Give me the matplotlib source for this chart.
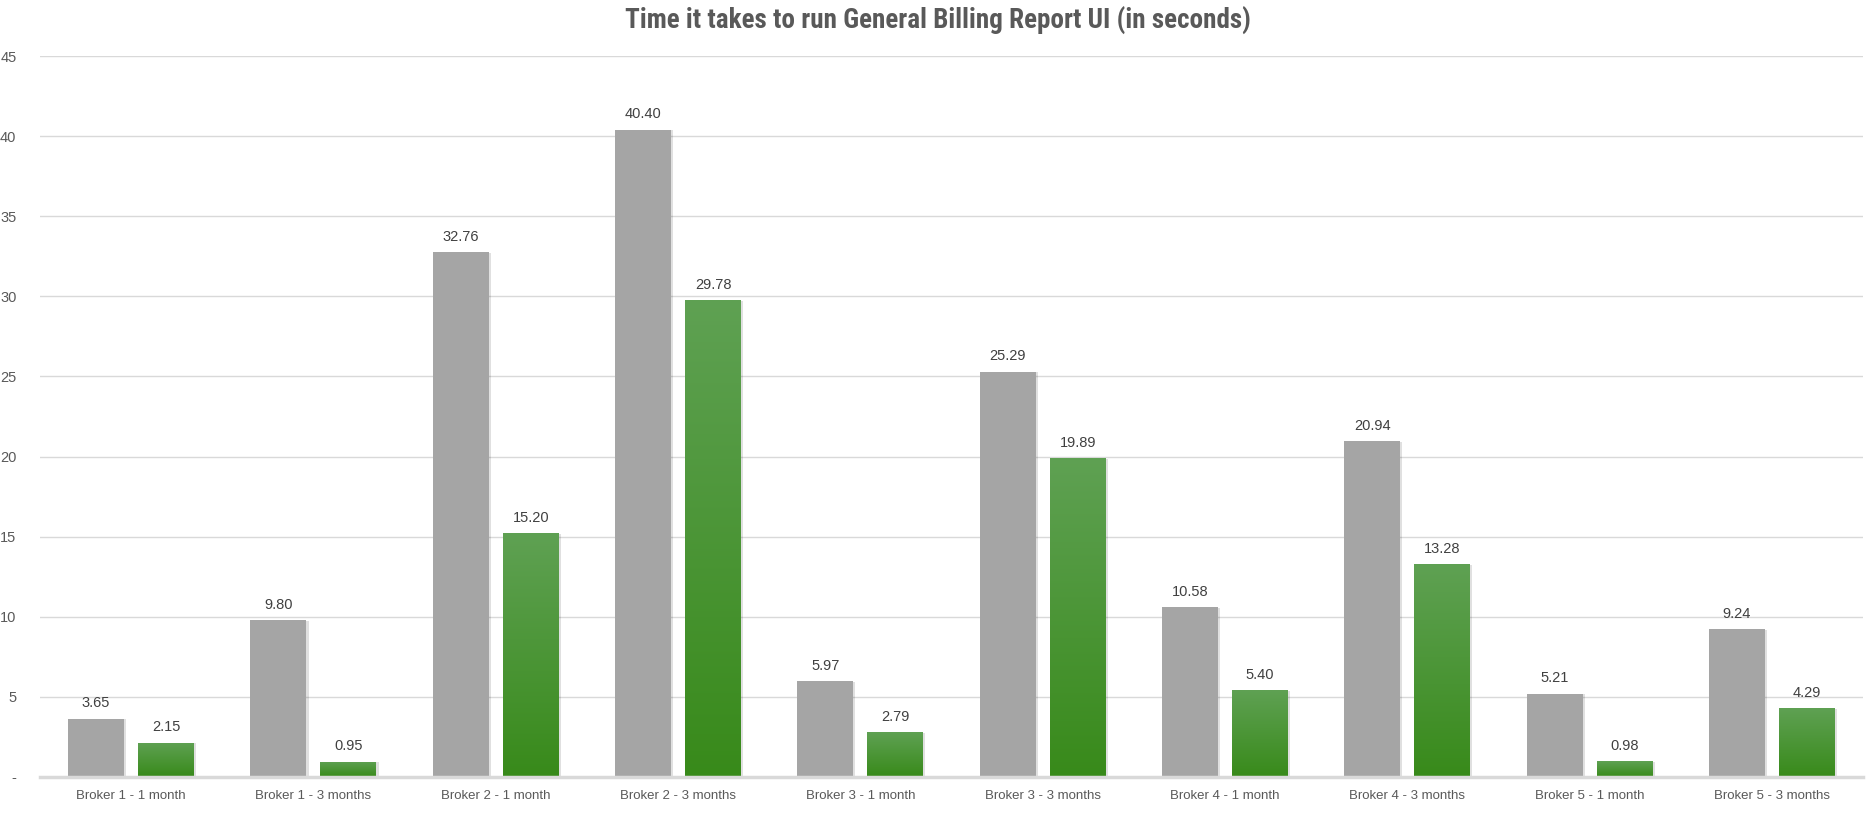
import numpy as np
import matplotlib.pyplot as plt
import matplotlib.patheffects as pe
from matplotlib.colors import LinearSegmentedColormap

# data
categories = ["Broker 1 - 1 month", "Broker 1 - 3 months", "Broker 2 - 1 month",
              "Broker 2 - 3 months", "Broker 3 - 1 month", "Broker 3 - 3 months",
              "Broker 4 - 1 month", "Broker 4 - 3 months", "Broker 5 - 1 month",
              "Broker 5 - 3 months"]
before = [3.65, 9.80, 32.76, 40.40, 5.97, 25.29, 10.58, 20.94, 5.21, 9.24]
after = [2.15, 0.95, 15.20, 29.78, 2.79, 19.89, 5.40, 13.28, 0.98, 4.29]
yticks = [0, 5, 10, 15, 20, 25, 30, 35, 40, 45]
ytick_labels = ["-", "5", "10", "15", "20", "25", "30", "35", "40", "45"]

plt.rcParams['font.family'] = ['Liberation Sans', 'DejaVu Sans']

fig = plt.figure(figsize=(18.75, 8.13), dpi=100)
ax = fig.add_axes([40/1875, 1-777/813, (1863-40)/1875, (777-56)/813])

x = np.arange(len(categories))
w = 0.307
off = 0.192

shadow = [pe.SimplePatchShadow(offset=(1.5, -0.5), shadow_rgbFace='#000000', alpha=0.12), pe.Normal()]

gray_bars = ax.bar(x - off, before, w, color='#A5A5A5', zorder=3)
green_bars = ax.bar(x + off, after, w, color='#4A9636', zorder=3)
for b in list(gray_bars) + list(green_bars):
    b.set_path_effects(shadow)

# vertical gradient on the green bars
cmap = LinearSegmentedColormap.from_list('g', ['#388A1A', '#5FA153'])
grad = np.linspace(0, 1, 256).reshape(-1, 1)
for b in green_bars:
    x0, y0 = b.get_x(), b.get_y()
    im = ax.imshow(grad, cmap=cmap, origin='lower', aspect='auto',
                   extent=[x0, x0 + b.get_width(), y0, y0 + b.get_height()], zorder=4)
    im.set_clip_path(b)

for xi, v in zip(x - off, before):
    ax.annotate(f"{v:.2f}", (xi, v), xytext=(0, 6), textcoords='offset points',
                ha='center', va='bottom', fontsize=10.5, color='#404040')
for xi, v in zip(x + off, after):
    ax.annotate(f"{v:.2f}", (xi, v), xytext=(0, 6), textcoords='offset points',
                ha='center', va='bottom', fontsize=10.5, color='#404040')

ax.set_xlim(-0.5, len(categories) - 0.5)
ax.set_ylim(0, 45)
ax.set_yticks(yticks)
ax.set_yticklabels(ytick_labels)
ax.set_xticks(x)
ax.set_xticklabels(categories)
ax.tick_params(axis='both', length=0, colors='#595959', labelsize=9.5)
ax.tick_params(axis='y', pad=17, labelsize=10.5)
ax.tick_params(axis='x', pad=9)
ax.grid(axis='y', color='#D9D9D9', linewidth=1, zorder=0)
ax.set_axisbelow(True)
for s in ['top', 'right', 'left']:
    ax.spines[s].set_visible(False)
ax.spines['bottom'].set_color('#D9D9D9')
ax.spines['bottom'].set_linewidth(2.5)
ax.spines['bottom'].set_zorder(5)

fig.text(0.5, 1 - 21/813, "Time it takes to run General Billing Report UI (in seconds)",
         ha='center', va='center', fontsize=19.5, fontweight='bold', color='#595959',
         family=['Roboto Condensed', 'Liberation Sans Narrow', 'Liberation Sans', 'DejaVu Sans'])

fig.savefig('out.png', dpi=100, facecolor='white')
